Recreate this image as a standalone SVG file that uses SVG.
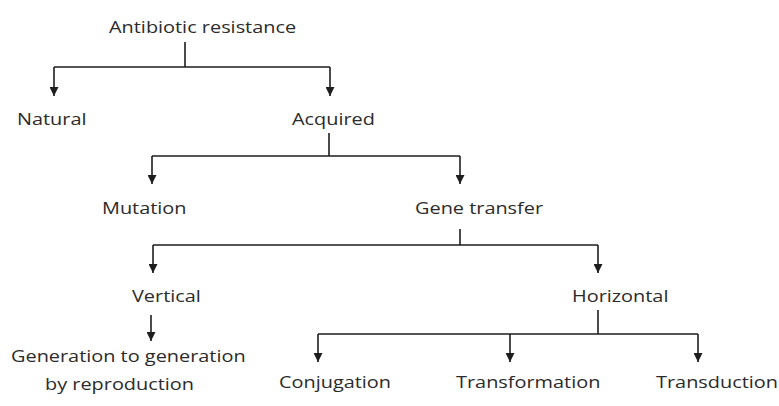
<svg xmlns="http://www.w3.org/2000/svg" width="779" height="406" viewBox="0 0 779 406">
<style>
  text { font-family: "Open Sans", "Liberation Sans", sans-serif; font-size: 17px; fill: #2b2b2b; }
  .ln { stroke: #1e1e1e; stroke-width: 1.6; fill: none; }
  .ar { stroke: #1e1e1e; stroke-width: 1.6; fill: none; marker-end: url(#ah); }
</style>
<defs>
  <marker id="ah" markerUnits="userSpaceOnUse" viewBox="0 0 10 10" refX="10" refY="5" markerWidth="10" markerHeight="9" orient="auto">
    <path d="M0,0 L10,5 L0,10 Z" fill="#1e1e1e"/>
  </marker>
</defs>
<rect width="779" height="406" fill="#ffffff"/>
<g id="connectors">
  <path class="ln" d="M185,42 V67 M54,67 H330"/>
  <path class="ar" d="M54,67 V96"/>
  <path class="ar" d="M330,67 V96"/>
  <path class="ln" d="M329,133 V156 M152,156 H460"/>
  <path class="ar" d="M152,156 V184"/>
  <path class="ar" d="M460,156 V184"/>
  <path class="ln" d="M460,229 V245 M153,245 H598"/>
  <path class="ar" d="M153,245 V273"/>
  <path class="ar" d="M598,245 V273"/>
  <path class="ar" d="M151,315 V341"/>
  <path class="ln" d="M598,310 V334 M318,334 H698"/>
  <path class="ar" d="M318,334 V362"/>
  <path class="ar" d="M510,334 V362"/>
  <path class="ar" d="M698,334 V362"/>
</g>
<g id="n-antibiotic"><text transform="translate(109,33) scale(1.17,1)">Antibiotic resistance</text></g>
<g id="n-natural"><text transform="translate(17,125) scale(1.17,1)">Natural</text></g>
<g id="n-acquired"><text transform="translate(292,125) scale(1.17,1)">Acquired</text></g>
<g id="n-mutation"><text transform="translate(102,214) scale(1.17,1)">Mutation</text></g>
<g id="n-genetransfer"><text transform="translate(415,214) scale(1.17,1)">Gene transfer</text></g>
<g id="n-vertical"><text transform="translate(132,302) scale(1.17,1)">Vertical</text></g>
<g id="n-horizontal"><text transform="translate(572,302) scale(1.17,1)">Horizontal</text></g>
<g id="n-generation">
  <text transform="translate(11,362) scale(1.17,1)">Generation to generation</text>
  <text transform="translate(45,390) scale(1.17,1)">by reproduction</text>
</g>
<g id="n-conjugation"><text transform="translate(279,388) scale(1.17,1)">Conjugation</text></g>
<g id="n-transformation"><text transform="translate(456,388) scale(1.17,1)">Transformation</text></g>
<g id="n-transduction"><text transform="translate(656,388) scale(1.17,1)">Transduction</text></g>
</svg>
